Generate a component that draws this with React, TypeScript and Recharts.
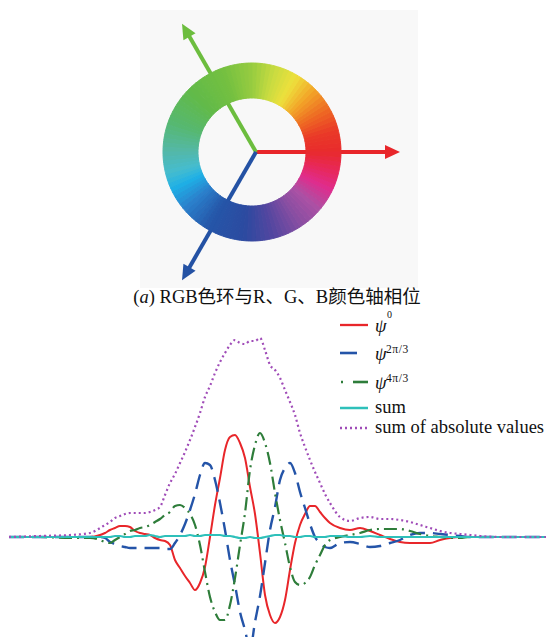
import React from 'react';
import { LineChart, Line, XAxis, YAxis, Legend, PieChart, Pie, Cell, Customized } from 'recharts';

// ---------- data: wavelet curves (x position, displacement) ----------
const xs = [9, 40, 70, 90,
  100, 105, 110, 115, 120, 125, 130, 135, 140, 145, 150, 155, 160, 165, 170, 175, 180, 185, 190, 195,
  200, 205, 210, 215, 220, 225, 230, 235, 240, 245, 250, 255, 260, 265, 270, 275, 280, 285, 290, 295,
  300, 305, 310, 315, 320, 325, 330,
  340, 350, 360, 370, 380, 390, 400, 410, 420, 430, 440, 450, 460, 470, 480,
  500, 546];

const psi0 = [0, 0, 0, 0,
  2, 4, 7, 9, 11, 11, 10, 6, 4, 3, 2, -1, -3, -4, -8, -23, -31, -39, -46, -53,
  -46, -30, 0, 32, 59, 87, 100, 102, 94, 79, 50, 23, -16, -58, -78, -86, -80, -63, -33, -6,
  12, 23, 31, 31, 25, 19, 14,
  9, 7, 9, 6, 2, -2, -5, -6, -6, -6, -3, -1, 0, 0, 0,
  0, 0];

const psi2pi3 = [0, 0, 0, 0,
  0, -1, -5, -7, -9, -10, -11, -11, -11, -11, -11, -11, -11, -12, -12, -6, 2, 13, 27, 43,
  62, 74, 72, 57, 34, 7, -23, -48, -75, -93, -113, -85, -59, -26, 7, 30, 57, 69, 74, 64,
  45, 29, 13, 0, -6, -10, -11,
  -6, -5, -7, -10, -9, -6, -3, 2, 4, 4, 3, 2, 1, 0, 0,
  0, 0];

const psi4pi3 = [0, 0, -1, -1,
  -3, -5, -6, -3, 0, 3, 6, 7, 9, 10, 12, 15, 18, 22, 25, 31, 32, 29, 23, 12,
  -8, -35, -60, -75, -83, -83, -68, -41, -8, 24, 67, 92, 104, 94, 74, 44, 17, -6, -30, -45,
  -48, -46, -40, -28, -18, -8, -3,
  0, 2, 4, 7, 8, 8, 8, 6, 3, 1, 0, -1, -1, 0, 0,
  0, 0];

const sumVals = [0, 0, 0, 0,
  0, 0, 0, 1, 1, 0, 0, 1, 1, 1, 2, 1, 0, 1, 1, 1, 1, 1, 2, 1,
  1, 2, 2, 2, 2, 1, 1, 0, -1, -1, 0, -1, -1, 0, 1, 2, 2, 1, 1, 0,
  0, 1, 1, 0, 0, 0, 1,
  1, 0, 0, 1, 0, 0, 0, 0, 0, 0, 0, 0, 0, 0, 0,
  0, 0];

const absSum = [0, 1, 2, 4,
  9, 12, 15, 19, 21, 23, 24, 24, 24, 24, 25, 27, 30, 42, 54, 63, 74, 85, 97, 110,
  124, 140, 151, 164, 175, 184, 192, 197, 194, 193, 196, 196, 199, 187, 172, 167, 159, 147, 135, 122,
  104, 90, 77, 65, 54, 43, 34,
  20, 16, 19, 20, 18, 18, 17, 15, 12, 9, 6, 4, 3, 2, 1,
  0, 0];

const seriesKeys = ['psi0', 'psi2', 'psi4', 'sum', 'abs'];
const seriesNames = ['ψ^0', 'ψ^2π/3', 'ψ^4π/3', 'sum', 'sum of absolute values'];
const legendBase = ['ψ', 'ψ', 'ψ', 'sum', 'sum of absolute values'];
const legendSup = ['0', '2π/3', '4π/3', '', ''];

// ---------- data: colour wheel ----------
const ringStopAngles = [0, 15, 30, 45, 60, 75, 90, 110, 135, 160, 180, 195, 205, 220, 240, 265, 285, 305, 320, 335, 348, 360];
const ringStopColors = ['#e82a2c', '#ea3a28', '#ee6a22', '#f2a428', '#eee03c', '#c8dc40', '#98cc40', '#74c040',
  '#62ba48', '#56b870', '#54b8a8', '#44bcd0', '#1eb0e6', '#2a80cc', '#2556a8', '#2c4aa0', '#5446a0',
  '#8a4ea2', '#ac50a4', '#e02c8c', '#e82858', '#e82a2c'];
const axisAngles = [0, 120, 240];
const axisLengths = [144, 148, 148];
const axisColors = ['#e8262a', '#6cbd3e', '#2452a4'];
const captionLatinA = '(';
const captionItalic = 'a';
const captionRest = ') RGB色环与R、G、B颜色轴相位';

// ---------- styling ----------
const SERIF = 'Liberation Serif, Noto Sans CJK SC, serif';
const seriesStyle: Record<string, { color: string; width: number; dash?: string }> = {
  psi0: { color: '#e8262a', width: 2 },
  psi2: { color: '#2454a8', width: 2.4, dash: '15 8' },
  psi4: { color: '#2e7d3a', width: 2.2, dash: '13 5 2 5' },
  sum: { color: '#2ec0ba', width: 2.2 },
  abs: { color: '#a04cb8', width: 2.2, dash: '2 3' },
};

const rows = xs.map((x, i) => ({
  x,
  psi0: psi0[i],
  psi2: psi2pi3[i],
  psi4: psi4pi3[i],
  sum: sumVals[i],
  abs: absSum[i],
}));

function hexToRgb(h: string) {
  const n = parseInt(h.slice(1), 16);
  return [(n >> 16) & 255, (n >> 8) & 255, n & 255];
}
function colorAt(angle: number) {
  for (let k = 0; k < ringStopAngles.length - 1; k++) {
    const a0 = ringStopAngles[k], a1 = ringStopAngles[k + 1];
    if (angle >= a0 && angle <= a1) {
      const t = (angle - a0) / (a1 - a0);
      const c0 = hexToRgb(ringStopColors[k]), c1 = hexToRgb(ringStopColors[k + 1]);
      const c = c0.map((v, j) => Math.round(v + (c1[j] - v) * t));
      return `rgb(${c[0]},${c[1]},${c[2]})`;
    }
  }
  return ringStopColors[0];
}
const SEG = 120;
const ringData = Array.from({ length: SEG }, (_, i) => ({ value: 1, color: colorAt((i + 0.5) * (360 / SEG)) }));

const ORIGIN_X = 256;
const ORIGIN_Y = 152;

const ArrowLayer = () => (
  <g>
    {axisAngles.map((a, i) => {
      const rad = (a * Math.PI) / 180;
      const ux = Math.cos(rad);
      const uy = -Math.sin(rad);
      const L = axisLengths[i];
      const head = 15;
      const half = 7;
      const bx = ORIGIN_X + ux * (L - head);
      const by = ORIGIN_Y + uy * (L - head);
      const tx = ORIGIN_X + ux * L;
      const ty = ORIGIN_Y + uy * L;
      const px = -uy;
      const py = ux;
      return (
        <g key={a}>
          <line x1={ORIGIN_X} y1={ORIGIN_Y} x2={bx + ux * 2} y2={by + uy * 2} stroke={axisColors[i]} strokeWidth={4} />
          <polygon
            points={`${tx},${ty} ${bx + px * half},${by + py * half} ${bx - px * half},${by - py * half}`}
            fill={axisColors[i]}
          />
        </g>
      );
    })}
    <text x={277} y={303} textAnchor="middle" style={{ fontFamily: SERIF }} fontSize={18.5} fill="#111">
      <tspan>{captionLatinA}</tspan>
      <tspan fontStyle="italic">{captionItalic}</tspan>
      <tspan>{captionRest}</tspan>
    </text>
  </g>
);

const LegendContent = () => {
  const lineYs = [25, 53, 82, 108, 128];
  return (
    <svg width={212} height={140} style={{ display: 'block', overflow: 'visible' }}>
      {seriesKeys.map((k, i) => {
        const s = seriesStyle[k];
        const y = lineYs[i];
        let sample: React.ReactNode;
        if (k === 'psi2') {
          sample = <line x1={6} x2={23} y1={y} y2={y} stroke={s.color} strokeWidth={2.6} />;
        } else if (k === 'psi4') {
          sample = (
            <g>
              <line x1={7} x2={9} y1={y} y2={y} stroke={s.color} strokeWidth={2.4} />
              <line x1={19} x2={34} y1={y} y2={y} stroke={s.color} strokeWidth={2.6} />
            </g>
          );
        } else {
          sample = (
            <line x1={6} x2={34} y1={y} y2={y} stroke={s.color} strokeWidth={s.width + 0.3} strokeDasharray={s.dash} />
          );
        }
        const isPsi = legendSup[i] !== '';
        return (
          <g key={k}>
            {sample}
            {isPsi ? (
              <g>
                <text x={41} y={y + 7} style={{ fontFamily: SERIF }} fontSize={18.5} fontStyle="italic" fill="#111">
                  {legendBase[i]}
                </text>
                <text
                  x={i === 0 ? 53 : 52}
                  y={i === 0 ? y - 7 : y}
                  style={{ fontFamily: SERIF }}
                  fontSize={i === 0 ? 10 : 11.5}
                  letterSpacing={0.6}
                  fill="#111"
                >
                  {legendSup[i]}
                </text>
              </g>
            ) : (
              <text x={41} y={y + 5} style={{ fontFamily: SERIF }} fontSize={18.5} fill="#111">
                {legendBase[i]}
              </text>
            )}
          </g>
        );
      })}
    </svg>
  );
};

export default function App() {
  return (
    <div style={{ position: 'absolute', left: 0, top: 0, width: 546, height: 637, background: '#fff', overflow: 'hidden', fontFamily: SERIF }}>
      <div style={{ position: 'absolute', left: 140, top: 10, width: 278, height: 278, background: '#f8f8f8' }} />
      <div style={{ position: 'absolute', left: 0, top: 0 }}>
        <PieChart width={546} height={312} margin={{ top: 0, right: 0, bottom: 0, left: 0 }}>
          <Pie
            data={ringData}
            dataKey="value"
            cx={252}
            cy={152}
            innerRadius={54}
            outerRadius={89}
            startAngle={0}
            endAngle={360}
            paddingAngle={0}
            stroke="none"
            isAnimationActive={false}
          >
            {ringData.map((d, i) => (
              <Cell key={i} fill={d.color} stroke={d.color} strokeWidth={1} />
            ))}
          </Pie>
          <Customized component={ArrowLayer} />
        </PieChart>
      </div>
      <div style={{ position: 'absolute', left: 0, top: 300 }}>
        <LineChart width={546} height={337} data={rows} margin={{ top: 0, right: 0, bottom: 0, left: 0 }}>
          <XAxis dataKey="x" type="number" domain={[0, 546]} hide />
          <YAxis type="number" domain={[-100, 237]} allowDataOverflow hide />
          {seriesKeys.map((k, i) => (
            <Line
              key={k}
              dataKey={k}
              name={seriesNames[i]}
              type="monotone"
              stroke={seriesStyle[k].color}
              strokeWidth={seriesStyle[k].width}
              strokeDasharray={seriesStyle[k].dash}
              dot={false}
              activeDot={false}
              isAnimationActive={false}
            />
          ))}
          <Legend
            layout="horizontal"
            verticalAlign="middle"
            align="center"
            wrapperStyle={{ left: 334, top: 0, width: 212, height: 140 }}
            content={LegendContent}
          />
        </LineChart>
      </div>
    </div>
  );
}
